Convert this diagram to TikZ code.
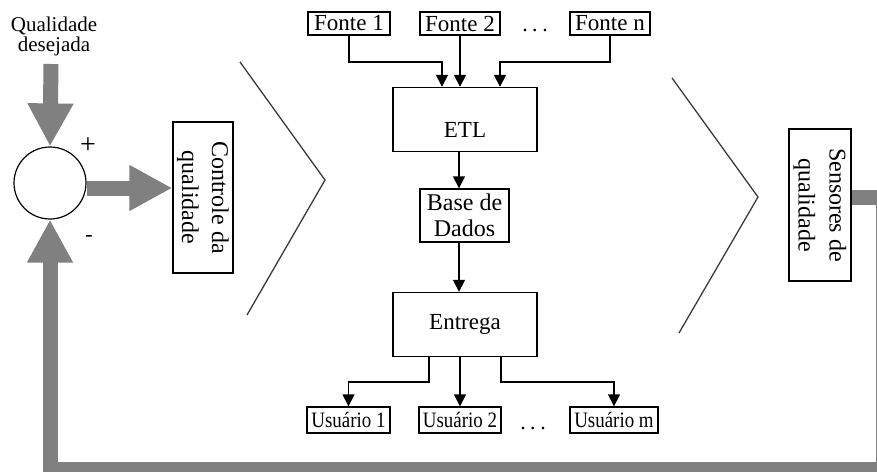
\documentclass[tikz,border=0pt]{standalone}
\usepackage{fontspec}
\usepackage{graphicx}
\setmainfont{Liberation Serif}
\usetikzlibrary{arrows.meta}
\definecolor{fbgray}{HTML}{808080}
\definecolor{chev}{HTML}{3A3A3A}

\begin{document}
\begin{tikzpicture}[x=1pt,y=-1pt,
  box/.style={draw, line width=1.4pt, inner sep=0pt, align=center},
  srcbox/.style={box, minimum height=23pt, font=\fontsize{23}{25}\selectfont},
  userbox/.style={box, minimum height=26pt, font=\fontsize{22}{24}\selectfont},
  procbox/.style={box, minimum width=144pt, minimum height=64pt, font=\fontsize{23}{26}\selectfont},
  sidebox/.style={box, rotate=-90, font=\fontsize{24}{30}\selectfont},
  conn/.style={line width=1.6pt, -{Triangle[length=12pt,width=12pt]}},
  fat/.style={fbgray, line width=15pt, line join=miter, -{Triangle[length=43pt,width=43pt]}},
  chevron/.style={chev, line width=1.3pt},
  sign/.style={font=\fontsize{28}{28}\selectfont, inner sep=0pt},
  dots/.style={font=\fontsize{22}{22}\selectfont, inner sep=0pt}
]
\useasboundingbox (0,0) rectangle (877,471);

% set point input and the summing junction
\node[font=\fontsize{21}{20}\selectfont, align=center, inner sep=0pt] (want) at (54,36) {Qualidade\\desejada};
\coordinate (wantend) at (51,64);
\node[draw, circle, line width=1.2pt, minimum size=72pt, inner sep=0pt] (sum) at (50,183) {};
\node[sign] (plus) at (88,146) {+};
\node[sign, font=\fontsize{22}{22}\selectfont] (minus) at (89,238) {-};

% controller and sensors
\node[sidebox, minimum width=151pt, minimum height=60pt] (ctrl) at (203,197.5) {Controle da\\qualidade};
\node[sidebox, minimum width=152pt, minimum height=62pt, font=\fontsize{24}{31}\selectfont] (sens) at (820,205) {Sensores de\\qualidade};

% process brackets
\draw[chevron] (240,62) -- (325,180) -- (247,315);
\draw[chevron] (672,78) -- (758,197) -- (679,333);

% sources
\node[srcbox, minimum width=82pt] (f1) at (349,23.5) {Fonte 1};
\node[srcbox, minimum width=80pt] (f2) at (460,23.5) {Fonte 2};
\node[srcbox, minimum width=80pt] (fn) at (610,23.5) {Fonte n};
\node[dots] (fdots) at (535,31) {.\hspace{4.5pt}.\hspace{4.5pt}.};

% pipeline
\node[procbox, text height=36pt, text depth=0pt] (etl) at (465,119.5) {ETL};
\node[box, minimum width=89pt, minimum height=53pt, font=\fontsize{24}{26}\selectfont] (bd) at (464.5,215.5) {Base de\\Dados};
\node[procbox] (ent) at (465,324.5) {Entrega};

% users
\node[userbox, minimum width=83pt] (u1) at (348.5,420) {\scalebox{0.86}[1]{Usuário 1}};
\node[userbox, minimum width=82pt] (u2) at (460,420) {\scalebox{0.86}[1]{Usuário 2}};
\node[userbox, minimum width=88pt] (um) at (614,420) {\scalebox{0.86}[1]{Usuário m}};
\node[dots] (udots) at (533,429) {.\hspace{4.5pt}.\hspace{4.5pt}.};

% data flow
\coordinate (inA) at (442,62);
\coordinate (inC) at (500,62);
\coordinate (col) at (459,0);
\coordinate (outA) at (429,382);
\coordinate (outC) at (501,382);
\draw[conn] (f1.south) |- (inA) -- (inA |- etl.north);
\draw[conn] (f2.south) -- (f2.south |- etl.north);
\draw[conn] (fn.south) |- (inC) -- (inC |- etl.north);
\draw[conn] (etl.south -| col) -- (bd.north -| col);
\draw[conn] (bd.south -| col) -- (ent.north -| col);
\draw[conn] (ent.south -| outA) -- (outA) -| (u1.north);
\draw[conn] (ent.south -| u2.north) -- (u2.north);
\draw[conn] (ent.south -| outC) -- (outC) -| (um.north);

% control loop
\coordinate (fbR) at (883,197.5);
\coordinate (fbB) at (50,469);
\draw[fat] (wantend) -- (sum.north);
\draw[fat] ([yshift=-5pt]sum.east) -- ([yshift=-5pt]sum.east -| ctrl.south);
\draw[fat] (sens.north |- fbR) -- (fbR) |- (fbB) -- (sum.south);
\end{tikzpicture}
\end{document}
